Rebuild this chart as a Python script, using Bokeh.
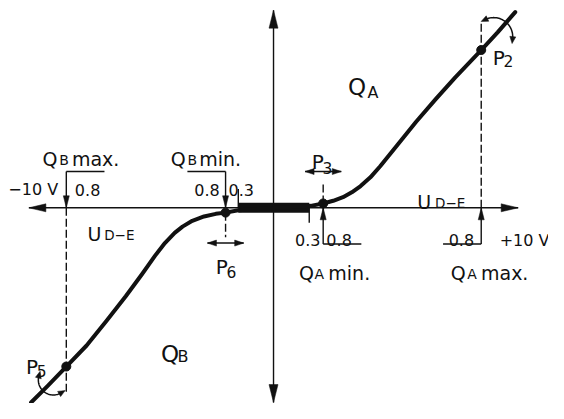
import numpy as np
from bokeh.plotting import figure
from bokeh.models import Range1d
from bokeh.core.properties import value
from bokeh.embed import file_html
from bokeh.resources import INLINE

# ---------------- data (x: control voltage U_D-E in V, y: flow Q) ----------------
curve_v = [-9.91, -9.24, -8.47, -7.64, -6.84, -6.04, -5.37, -4.84, -4.44, -4.04, -3.72, -3.32,
           -2.84, -2.36, -1.96, -1.44,
           1.52, 2.03, 2.44, 2.84, 3.20, 3.56, 3.96, 4.36, 5.03, 5.83, 6.63, 7.43, 8.49, 9.16, 9.88]
curve_q = [-8.06, -7.38, -6.57, -5.70, -4.70, -3.66, -2.74, -1.98, -1.46, -1.04, -0.78, -0.54,
           -0.36, -0.25, -0.20, -0.10,
           0.08, 0.18, 0.29, 0.44, 0.64, 0.90, 1.26, 1.72, 2.56, 3.56, 4.50, 5.40, 6.53, 7.26, 8.10]

point_names = ["P2", "P3", "P5", "P6"]
point_v = [8.49, 2.03, -8.47, -1.96]
point_q = [6.53, 0.18, -6.57, -0.20]

dead_band_v = [-1.44, 1.46]
axis_v = [-10.0, 10.0]
axis_q = [-8.06, 8.18]
voltage_labels = ["\u221210 V", "+10 V"]
setting_labels = ["0.8", "0.3"]

# ---------------- figure ----------------
W, H = 548, 403
X0, X1 = -11.16, 11.24
Y0, Y1 = -8.10, 8.58
sx = W / (X1 - X0)
sy = H / (Y1 - Y0)

p = figure(width=W, height=H, x_range=Range1d(X0, X1), y_range=Range1d(Y0, Y1),
           output_backend="svg", toolbar_location=None, min_border=0,
           x_axis_location=None, y_axis_location=None)
p.grid.visible = False
p.outline_line_color = None
p.background_fill_color = "white"

FONT = value("DejaVu Sans")
BLACK = "#111111"


def px(X):
    return (X - 281.0) / 25.0


def py(Y):
    return (216.5 - Y) / 25.0


heads_x, heads_y = [], []


def head(tx, ty, ang_deg, length, width):
    a = np.radians(ang_deg)
    dx, dy = np.cos(a), np.sin(a)
    bx, by = tx - dx * length / sx, ty - dy * length / sy
    nx, ny = -dy, dx
    heads_x.append([tx, bx + nx * width / 2 / sx, bx - nx * width / 2 / sx])
    heads_y.append([ty, by + ny * width / 2 / sy, by - ny * width / 2 / sy])


def label(X, Y, txt, size, align="left"):
    p.text(x=[px(X)], y=[py(Y)], text=[txt], text_font=FONT, text_font_size=f"{size}px",
           text_align=align, text_baseline="alphabetic", text_color=BLACK)


# axes
p.line(axis_v, [0, 0], line_color=BLACK, line_width=1.4)
p.line([0, 0], axis_q, line_color=BLACK, line_width=1.4)
head(axis_v[0], 0, 180, 17, 8)
head(axis_v[1], 0, 0, 17, 8)
head(0, axis_q[1], 90, 18, 9)
head(0, axis_q[0], -90, 18, 9)

P2v, P3v, P5v, P6v = point_v
P2q, P3q, P5q, P6q = point_q

# dashed projection lines
dash_x0 = [P2v, P5v, P3v, P6v]
dash_y0 = [0.0, 0.0, P3q, P6q]
dash_x1 = [P2v, P5v, P3v, P6v]
dash_y1 = [py(25), py(408), py(190), py(247)]
p.segment(dash_x0, dash_y0, dash_x1, dash_y1, line_color=BLACK, line_width=1.4, line_dash="8 3")

# setting brackets (solid)
by = 1.5
bl = 1.56
seg_x0 = [P5v, P5v, P6v - bl, P6v, P3v, P3v, P2v - bl, P2v, dead_band_v[0], dead_band_v[1]]
seg_y0 = [by, by, by, by, -by, -by, -by, -by, 0.0, 0.0]
seg_x1 = [P5v, P5v + bl, P6v, P6v, P3v, P3v + bl, P2v, P2v, dead_band_v[0], dead_band_v[1]]
seg_y1 = [0.0, by, by, 0.0, 0.0, -by, -by, 0.0, py(197), py(232)]
p.segment(seg_x0, seg_y0, seg_x1, seg_y1, line_color=BLACK, line_width=1.4)
head(P5v, 0, -90, 12, 6)
head(P6v, 0, -90, 12, 6)
head(P3v, 0, 90, 12, 6)
head(P2v, 0, 90, 12, 6)

# double arrows at P3 and P6
da = 0.74
p.segment([P3v - da, P6v - da], [by, -1.46], [P3v + da, P6v + da], [by, -1.46],
          line_color=BLACK, line_width=1.4)
for (cx, cy) in [(P3v, by), (P6v, -1.46)]:
    head(cx - da, cy, 180, 9, 6)
    head(cx + da, cy, 0, 9, 6)

# curved arrows around the characteristic ends
for (cv, r, a0, a1) in [(9.0, 19, -6, 115), (-9.0, 15, 165, 300)]:
    cq = float(np.interp(cv, curve_v, curve_q))
    t = np.radians(np.linspace(a0, a1, 40))
    ax = cv + r * np.cos(t) / sx
    ay = cq + r * np.sin(t) / sy
    p.line(ax, ay, line_color=BLACK, line_width=1.5)
    ex0, ey0 = ax[0], ay[0]
    ex1, ey1 = ax[-1], ay[-1]
    d0 = a0 - 90
    d1 = a1 + 90
    head(ex0 + 5 * np.cos(np.radians(d0)) / sx, ey0 + 5 * np.sin(np.radians(d0)) / sy, d0, 7, 6)
    head(ex1 + 5 * np.cos(np.radians(d1)) / sx, ey1 + 5 * np.sin(np.radians(d1)) / sy, d1, 7, 6)

p.patches(heads_x, heads_y, fill_color=BLACK, line_color=BLACK, line_width=0.5)

# dead band and characteristic
p.line(dead_band_v, [0, 0], line_color=BLACK, line_width=10, line_cap="butt")
p.line(curve_v, curve_q, line_color=BLACK, line_width=4, line_cap="round", line_join="round")
p.scatter(point_v, point_q, size=9, color=BLACK)

# ---------------- labels ----------------
s_num = 16
label(10, 198, voltage_labels[0], s_num)
label(563, 250, voltage_labels[1], s_num, align="right")
label(78, 198, setting_labels[0], s_num)
label(200, 198, setting_labels[0], s_num)
label(235, 198, setting_labels[1], s_num)
label(303, 250, setting_labels[1], s_num)
label(335, 250, setting_labels[0], s_num)
label(460, 250, setting_labels[0], s_num)

# Q_B max., Q_B min., Q_A min., Q_A max.
for (xq, yb, sub, xs, xt, txt) in [(45, 166, "B", 62, 75, "max."),
                                    (176, 166, "B", 193, 205, "min."),
                                    (307, 284, "A", 323, 337, "min."),
                                    (462, 284, "A", 479, 493, "max.")]:
    label(xq, yb, "Q", 19)
    label(xs, yb + 1, sub, 14)
    label(xt, yb, txt, 19)

# big Q_A / Q_B
label(357, 92, "Q", 23)
label(377, 97, "A", 16)
label(166, 368, "Q", 23)
label(183, 370, "B", 16)

# U_D-E
for (xu, yu, xs, ys) in [(428, 210, 446, 212), (91, 243.5, 108, 245)]:
    label(xu, yu, "U", 19)
    label(xs, ys, "D\u2212E", 13.5)

# point labels
for (name, xp, yp, xs, ys) in [("2", 505, 62, 516, 65), ("5", 28, 381, 39, 385),
                                ("6", 222, 278, 233, 283), ("3", 320, 169, 331, 175)]:
    label(xp, yp, "P", 20)
    label(xs, ys, name, 15.5)

open("out.html", "w").write(file_html(p, INLINE))
